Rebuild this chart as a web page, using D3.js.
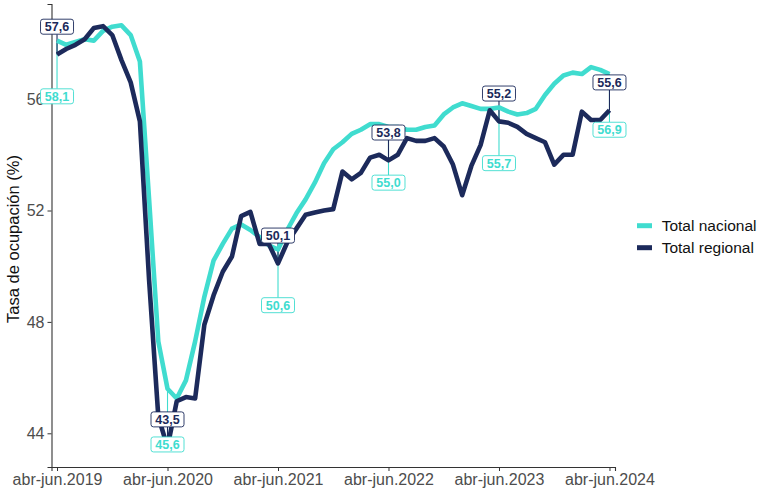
<!DOCTYPE html>
<html lang="es">
<head>
<meta charset="UTF-8">
<title>Tasa de ocupación</title>
<style>
  body { margin: 0; background: #fff; }
  svg { font-family: "Liberation Sans", Arial, sans-serif; }
</style>
</head>
<body>
<div id="chart"></div>
<script src="https://cdn.jsdelivr.net/npm/d3@7"></script>
<script>
// rolling quarters, abr-jun.2019 ... abr-jun.2024
const months = ["ene","feb","mar","abr","may","jun","jul","ago","sep","oct","nov","dic"];
const periods = d3.range(61).map(i => {
  const m = (3 + i) % 12;
  const year = 2019 + Math.floor((3 + i + 2) / 12);
  return months[m] + "-" + months[(m + 2) % 12] + "." + year;
});

const nacional = [
  58.1, 57.95, 58.05, 58.15, 58.1, 58.45, 58.6, 58.65, 58.3, 57.35,
  52.4, 47.3, 45.6, 45.25, 45.9, 47.3, 48.9, 50.2, 50.8, 51.35,
  51.5, 51.3, 51.05, 50.75, 50.6, 51.3, 51.9, 52.4, 53.0, 53.7,
  54.2, 54.45, 54.75, 54.9, 55.1, 55.1, 55.0, 55.0, 54.9, 54.9,
  55.0, 55.05, 55.45, 55.7, 55.85, 55.75, 55.65, 55.65, 55.7, 55.55,
  55.45, 55.5, 55.65, 56.15, 56.55, 56.85, 56.95, 56.9, 57.15, 57.05,
  56.9
];
const regional = [
  57.6, 57.8, 57.95, 58.15, 58.55, 58.62, 58.3, 57.4, 56.6, 55.2,
  49.5, 44.6, 43.5, 45.15, 45.3, 45.25, 47.9, 48.95, 49.8, 50.35,
  51.8, 51.95, 50.8, 50.8, 50.1, 50.85, 51.35, 51.85, 51.93, 52.0,
  52.05, 53.4, 53.12, 53.35, 53.9, 54.0, 53.8, 54.0, 54.6, 54.5,
  54.5, 54.6, 54.3, 53.65, 52.55, 53.6, 54.35, 55.6, 55.2, 55.15,
  55.0, 54.75, 54.6, 54.45, 53.65, 54.0, 54.0, 55.55, 55.25, 55.25,
  55.6
];
const tickPeriods = ["abr-jun.2019","abr-jun.2020","abr-jun.2021","abr-jun.2022","abr-jun.2023","abr-jun.2024"];
const yTicks = [44, 48, 52, 56];
const seriesNames = ["Total nacional", "Total regional"];
const colors = ["#40dccf", "#1c2a5b"];

const W = 764, H = 493;
const svg = d3.select("#chart").append("svg")
  .attr("width", W).attr("height", H);

const x = d3.scaleLinear().domain([-0.6, 60.6]).range([51.5, 615]);
const y = d3.scaleLinear().domain([42.79, 59.415]).range([467, 4]);
const fmt = v => d3.format(".1f")(v).replace(".", ",");

// axes
const xAxis = svg.append("g")
  .attr("transform", "translate(0,467)")
  .call(d3.axisBottom(x)
    .tickValues(tickPeriods.map(p => periods.indexOf(p)))
    .tickFormat(i => periods[i])
    .tickSizeOuter(0).tickSize(4).tickPadding(3));
const yAxis = svg.append("g")
  .attr("transform", "translate(51.5,0)")
  .call(d3.axisLeft(y).tickValues(yTicks).tickFormat(d3.format("d"))
    .tickSizeOuter(0).tickSize(4).tickPadding(3));
[xAxis, yAxis].forEach(a => {
  a.select(".domain").attr("stroke", "#333").attr("stroke-width", 1.1);
  a.selectAll(".tick line").attr("stroke", "#333");
  a.selectAll(".tick text").attr("fill", "#4d4d4d").style("font-size", "16px")
    .style("font-family", "Liberation Sans, Arial, sans-serif");
});

svg.append("text")
  .attr("transform", "translate(19,239) rotate(-90)")
  .attr("text-anchor", "middle")
  .style("font-size", "16.5px")
  .attr("fill", "#111")
  .text("Tasa de ocupación (%)");

const series = [nacional, regional];
const labelIdx = tickPeriods.map(p => periods.indexOf(p));
const nudge = [-2, 1];   // label offset in data units (below / above)

// connector segments
series.forEach((vals, s) => {
  svg.append("g").selectAll("line")
    .data(labelIdx).enter().append("line")
    .attr("x1", i => x(i)).attr("x2", i => x(i))
    .attr("y1", i => y(vals[i]))
    .attr("y2", i => y(vals[i] + nudge[s]) + (s === 0 ? -7.5 : 7.5))
    .attr("stroke", colors[s]).attr("stroke-width", 1.1);
});

// lines
const line = d3.line().x((d, i) => x(i)).y(d => y(d));
series.forEach((vals, s) => {
  svg.append("path")
    .datum(vals)
    .attr("d", line)
    .attr("fill", "none")
    .attr("stroke", colors[s])
    .attr("stroke-width", 4.6)
    .attr("stroke-linejoin", "round");
});

// labels
[1, 0].forEach(s => {
  const vals = series[s];
  const g = svg.append("g").selectAll("g")
    .data(labelIdx).enter().append("g")
    .attr("transform", i => `translate(${x(i)},${y(vals[i] + nudge[s])})`);
  g.append("rect")
    .attr("x", -16.5).attr("y", -7.5).attr("width", 33).attr("height", 15)
    .attr("rx", 2.5)
    .attr("fill", "#fff").attr("stroke", colors[s]).attr("stroke-width", 0.9);
  g.append("text")
    .attr("text-anchor", "middle").attr("dy", "0.36em")
    .style("font-size", "12.5px").style("font-weight", "bold")
    .attr("fill", colors[s])
    .text(i => fmt(vals[i]));
});

// legend
const leg = svg.append("g").attr("transform", "translate(637,225.7)");
seriesNames.forEach((name, s) => {
  leg.append("line")
    .attr("x1", 0).attr("x2", 15).attr("y1", s * 22).attr("y2", s * 22)
    .attr("stroke", colors[s]).attr("stroke-width", 5);
  leg.append("text")
    .attr("x", 24.7).attr("y", s * 22).attr("dy", "0.35em")
    .style("font-size", "15.5px").attr("fill", "#111")
    .text(name);
});
</script>
</body>
</html>
